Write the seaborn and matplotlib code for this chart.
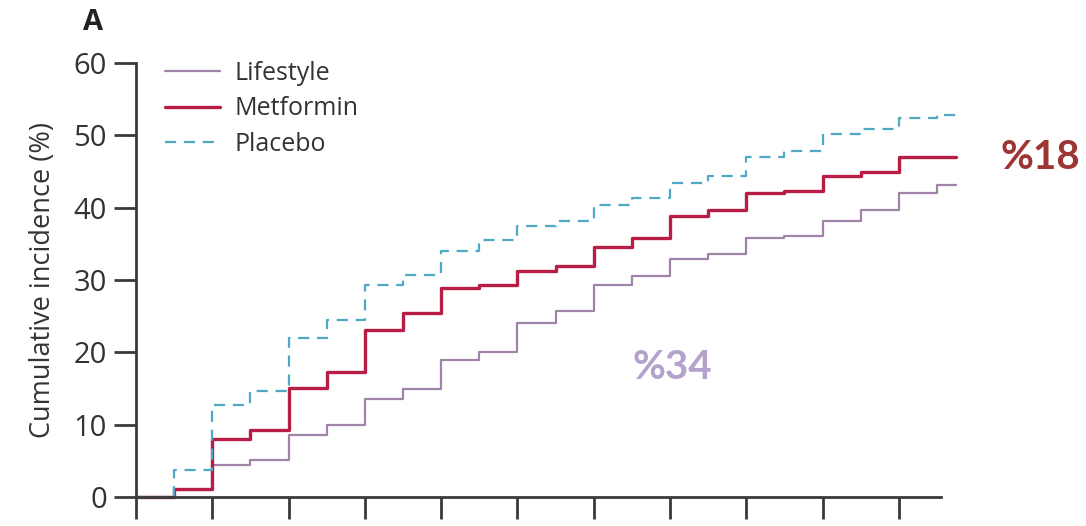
import numpy as np
import pandas as pd
import matplotlib
matplotlib.use("Agg")
import matplotlib.pyplot as plt
import seaborn as sns

# follow-up time (steps every half unit), last point is end of follow-up
times = [0, 0.5, 1, 1.5, 2, 2.5, 3, 3.5, 4, 4.5, 5, 5.5,
         6, 6.5, 7, 7.5, 8, 8.5, 9, 9.5, 10, 10.5, 10.75]

lifestyle = [0, 1.0, 4.4, 5.1, 8.6, 10.0, 13.5, 15.0, 18.9, 20.1, 24.0, 25.7,
             29.3, 30.5, 32.9, 33.6, 35.8, 36.1, 38.2, 39.7, 42.0, 43.1, 43.1]
metformin = [0, 1.1, 8.0, 9.3, 15.1, 17.3, 23.1, 25.4, 28.9, 29.3, 31.3, 32.0,
             34.6, 35.8, 38.9, 39.7, 42.0, 42.3, 44.4, 45.0, 47.0, 47.0, 47.0]
placebo = [0, 3.7, 12.7, 14.7, 22.0, 24.5, 29.3, 30.7, 34.0, 35.5, 37.4, 38.1,
           40.4, 41.3, 43.4, 44.4, 47.0, 47.8, 50.2, 50.9, 52.4, 52.8, 52.8]

x_ticks = [0, 1, 2, 3, 4, 5, 6, 7, 8, 9, 10]
y_ticks = [0, 10, 20, 30, 40, 50, 60]

reduction_labels = {"Metformin": "%18", "Lifestyle": "%34"}

sns.set_style("ticks")
plt.rcParams['font.family'] = ['Open Sans', 'DejaVu Sans']

fig = plt.figure(figsize=(10.86, 5.26), dpi=100)
ax = fig.add_axes([0.1252, 0.0551, 0.7587, 0.8251])

axis_col = "#3a3a3a"
series = [
    ("Lifestyle", lifestyle, "#9f84a8", 1.6, (None, None)),
    ("Metformin", metformin, "#b81d45", 2.4, (None, None)),
    ("Placebo", placebo, "#4fa9c4", 1.6, (5, 3.5)),
]
for name, vals, col, lw, dash in series:
    df = pd.DataFrame({"time": times, "incidence": vals})
    line_kw = dict(x="time", y="incidence", data=df, ax=ax, color=col,
                   linewidth=lw, drawstyle="steps-post", label=name,
                   clip_on=False)
    if dash[0] is not None:
        line_kw["dashes"] = dash
    sns.lineplot(**line_kw)

ax.set_xlim(0, 10.8)
ax.set_ylim(0, 60)
ax.set_xticks(x_ticks)
ax.set_xticklabels([])
ax.set_yticks(y_ticks)
ax.set_xlabel("")
ax.set_ylabel("Cumulative incidence (%)", fontsize=19.5, color="#333333", labelpad=12)

for s in ["top", "right"]:
    ax.spines[s].set_visible(False)
for s in ["left", "bottom"]:
    ax.spines[s].set_linewidth(2.0)
    ax.spines[s].set_color(axis_col)
ax.spines["bottom"].set_bounds(0, 10.55)
ax.tick_params(axis="both", width=2.0, length=16, color=axis_col)
ax.tick_params(axis="y", labelsize=21, labelcolor="#333333", pad=5)

leg = ax.legend(loc="upper left", bbox_to_anchor=(0.035, 1.005), frameon=False,
                fontsize=18, handlelength=2.2, handletextpad=0.6,
                labelspacing=0.42, borderpad=0, borderaxespad=0)
for t in leg.get_texts():
    t.set_color("#333333")

fig.text(0.086, 0.958, "A", fontsize=21, fontweight="bold", color="#222222",
         ha="center", va="center")
fig.text(0.9576, 0.7015, reduction_labels["Metformin"], fontsize=29,
         fontweight="bold", color="#9e3535", ha="center", va="center",
         family=["Lato", "DejaVu Sans"])
fig.text(0.6188, 0.3004, reduction_labels["Lifestyle"], fontsize=29,
         fontweight="bold", color="#b4a2cc", ha="center", va="center",
         family=["Lato", "DejaVu Sans"])

fig.savefig("out.png", dpi=100)
plt.close(fig)
